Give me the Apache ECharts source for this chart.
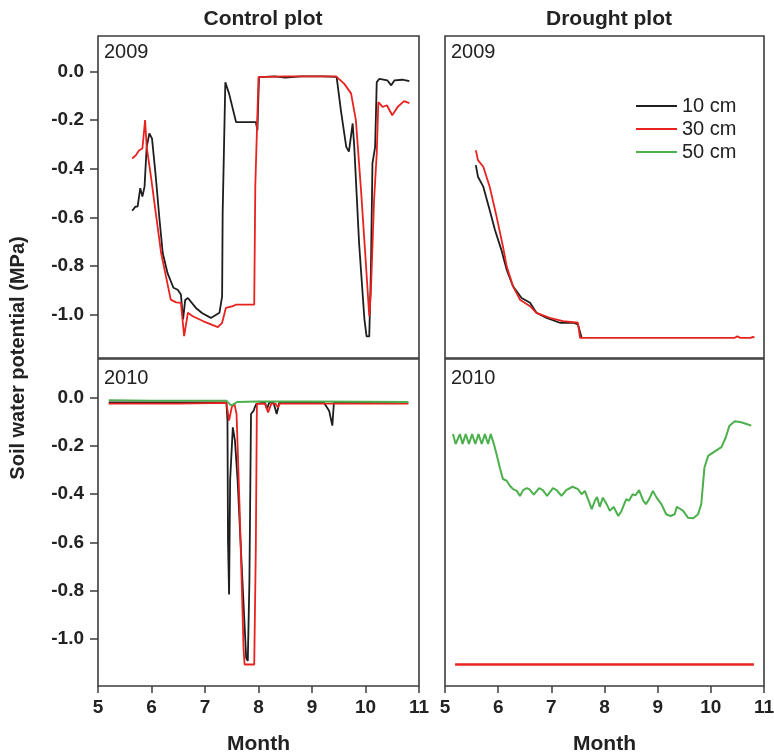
<!DOCTYPE html>
<html>
<head>
<meta charset="utf-8">
<script src="https://cdn.jsdelivr.net/npm/echarts@6.0.0/dist/echarts.min.js"></script>
<style>
  html, body { margin: 0; padding: 0; background: #fff; }
  #chart { width: 774px; height: 756px; }
</style>
</head>
<body>
<div id="chart"></div>
<script>
// month (x) and soil water potential in MPa (y)

// control plot, 2009
const ctl09_10cm = [[5.64,-0.573],[5.70,-0.556],[5.74,-0.556],[5.79,-0.48],[5.83,-0.515],[5.87,-0.474],[5.91,-0.31],[5.96,-0.255],[6.01,-0.276],[6.08,-0.433],[6.15,-0.61],[6.21,-0.747],[6.30,-0.83],[6.41,-0.89],[6.49,-0.898],[6.55,-0.918],[6.59,-1.02],[6.63,-0.94],[6.68,-0.932],[6.83,-0.973],[6.95,-0.995],[7.11,-1.014],[7.27,-0.993],[7.32,-0.925],[7.33,-0.583],[7.38,-0.044],[7.45,-0.091],[7.58,-0.208],[7.70,-0.208],[7.95,-0.208],[7.98,-0.242],[8.00,-0.09],[8.01,-0.023],[8.3,-0.02],[8.5,-0.025],[8.8,-0.02],[9.2,-0.02],[9.46,-0.022],[9.54,-0.16],[9.64,-0.31],[9.69,-0.33],[9.76,-0.214],[9.79,-0.31],[9.88,-0.706],[9.98,-1.02],[10.02,-1.09],[10.07,-1.09],[10.10,-0.83],[10.13,-0.378],[10.18,-0.31],[10.21,-0.044],[10.26,-0.03],[10.41,-0.037],[10.48,-0.057],[10.54,-0.037],[10.69,-0.034],[10.82,-0.04]]
const ctl09_30cm = [[5.64,-0.358],[5.71,-0.344],[5.77,-0.324],[5.83,-0.317],[5.88,-0.20],[5.91,-0.31],[5.99,-0.433],[6.08,-0.583],[6.18,-0.747],[6.27,-0.843],[6.36,-0.939],[6.46,-0.95],[6.55,-0.952],[6.61,-1.089],[6.68,-0.993],[6.77,-1.007],[6.96,-1.027],[7.24,-1.052],[7.32,-1.034],[7.39,-0.973],[7.52,-0.966],[7.58,-0.959],[7.92,-0.959],[7.94,-0.474],[8.00,-0.023],[8.5,-0.02],[9.0,-0.02],[9.45,-0.02],[9.60,-0.05],[9.73,-0.09],[9.82,-0.20],[9.92,-0.50],[10.01,-0.80],[10.07,-1.007],[10.10,-0.91],[10.16,-0.53],[10.21,-0.337],[10.24,-0.126],[10.32,-0.146],[10.40,-0.139],[10.50,-0.18],[10.60,-0.146],[10.72,-0.122],[10.82,-0.13]]

// drought plot, 2009
const dr09_10cm = [[5.58,-0.385],[5.62,-0.433],[5.72,-0.474],[5.84,-0.57],[5.94,-0.652],[6.06,-0.734],[6.16,-0.816],[6.28,-0.884],[6.44,-0.932],[6.60,-0.952],[6.72,-0.993],[6.91,-1.014],[7.16,-1.034],[7.41,-1.034],[7.50,-1.041],[7.57,-1.096]]
const dr09_30cm = [[5.58,-0.324],[5.62,-0.365],[5.72,-0.392],[5.84,-0.474],[5.97,-0.597],[6.09,-0.72],[6.16,-0.802],[6.28,-0.884],[6.41,-0.939],[6.60,-0.966],[6.72,-0.993],[6.97,-1.014],[7.22,-1.027],[7.50,-1.034],[7.54,-1.096],[8.5,-1.096],[9.5,-1.096],[10.45,-1.096],[10.5,-1.09],[10.55,-1.096],[10.75,-1.096],[10.79,-1.092],[10.82,-1.096]]

// control plot, 2010
const ctl10_10cm = [[5.2,-0.02],[6.0,-0.02],[7.0,-0.02],[7.40,-0.02],[7.42,-0.095],[7.43,-0.59],[7.45,-0.815],[7.47,-0.34],[7.52,-0.123],[7.56,-0.178],[7.61,-0.344],[7.70,-0.76],[7.77,-1.078],[7.80,-1.09],[7.83,-0.76],[7.86,-0.068],[7.91,-0.054],[7.93,-0.04],[7.96,-0.026],[8.12,-0.02],[8.16,-0.047],[8.20,-0.02],[8.28,-0.02],[8.34,-0.068],[8.39,-0.02],[9.22,-0.02],[9.32,-0.054],[9.38,-0.116],[9.41,-0.02],[10.0,-0.02],[10.8,-0.022]]
const ctl10_30cm = [[5.2,-0.025],[6.5,-0.025],[7.40,-0.022],[7.43,-0.02],[7.45,-0.095],[7.50,-0.04],[7.55,-0.025],[7.59,-0.068],[7.65,-0.48],[7.72,-1.036],[7.74,-1.105],[7.92,-1.105],[7.95,-0.62],[7.97,-0.026],[8.12,-0.025],[8.18,-0.061],[8.24,-0.025],[8.32,-0.025],[8.36,-0.04],[8.40,-0.025],[10.8,-0.025]]
const ctl10_50cm = [[5.2,-0.01],[6.0,-0.012],[7.0,-0.012],[7.40,-0.012],[7.49,-0.033],[7.6,-0.018],[8.0,-0.016],[9.0,-0.016],[10.0,-0.017],[10.8,-0.018]]

// drought plot, 2010
const dr10_30cm = [[5.19,-1.105],[7.0,-1.105],[9.0,-1.105],[10.81,-1.105]]
const dr10_50cm = [[5.15,-0.151],[5.20,-0.192],[5.28,-0.151],[5.33,-0.192],[5.39,-0.151],[5.45,-0.192],[5.51,-0.151],[5.57,-0.192],[5.63,-0.151],[5.69,-0.192],[5.75,-0.151],[5.81,-0.192],[5.86,-0.151],[5.91,-0.185],[5.97,-0.234],[6.03,-0.289],[6.09,-0.337],[6.16,-0.344],[6.22,-0.365],[6.28,-0.379],[6.35,-0.386],[6.41,-0.407],[6.47,-0.383],[6.54,-0.375],[6.59,-0.38],[6.67,-0.402],[6.77,-0.375],[6.84,-0.383],[6.92,-0.407],[7.03,-0.375],[7.10,-0.383],[7.19,-0.407],[7.28,-0.383],[7.40,-0.369],[7.50,-0.379],[7.57,-0.40],[7.63,-0.386],[7.69,-0.42],[7.76,-0.462],[7.82,-0.427],[7.86,-0.411],[7.91,-0.452],[7.97,-0.414],[8.04,-0.441],[8.10,-0.469],[8.17,-0.452],[8.26,-0.49],[8.32,-0.469],[8.37,-0.441],[8.41,-0.42],[8.46,-0.427],[8.53,-0.40],[8.58,-0.405],[8.65,-0.383],[8.73,-0.427],[8.78,-0.441],[8.84,-0.42],[8.91,-0.386],[8.98,-0.414],[9.07,-0.441],[9.16,-0.483],[9.24,-0.49],[9.32,-0.483],[9.36,-0.452],[9.42,-0.46],[9.48,-0.469],[9.57,-0.497],[9.67,-0.499],[9.72,-0.49],[9.76,-0.483],[9.82,-0.441],[9.88,-0.289],[9.95,-0.241],[10.04,-0.228],[10.20,-0.205],[10.28,-0.165],[10.35,-0.116],[10.45,-0.098],[10.57,-0.102],[10.67,-0.109],[10.76,-0.116]]

const yTicks = [0, -0.2, -0.4, -0.6, -0.8, -1.0]
const depthNames = ['10 cm', '30 cm', '50 cm']
const depthColors = ['#1e1e1e', '#e8231f', '#4cb04c']

const chart = echarts.init(document.getElementById('chart'))

const font = 'Liberation Sans'
const boldText = size => ({ fontFamily: font, fontWeight: 'bold', fontSize: size, color: '#222' })

// four panels: control / drought columns, 2009 / 2010 rows
const grids = [
  { left: 98, top: 36, width: 321, height: 322 },
  { left: 445, top: 36, width: 319, height: 322 },
  { left: 98, top: 359, width: 321, height: 327 },
  { left: 445, top: 359, width: 319, height: 327 }
].map(g => ({
  ...g,
  show: true,
  borderColor: '#3c3c3c',
  borderWidth: 1.6,
  backgroundColor: 'transparent',
  outerBoundsMode: 'none'
}))

const yRange = [[-1.179, 0.146], [-1.179, 0.146], [-1.194, 0.16], [-1.194, 0.16]]

const xAxes = grids.map((g, i) => ({
  type: 'value',
  gridIndex: i,
  min: 5,
  max: 11,
  interval: 1,
  show: i >= 2,
  axisLine: { show: false, onZero: false },
  axisTick: { show: true, length: 7, lineStyle: { color: '#3c3c3c', width: 1.5 } },
  axisLabel: { ...boldText(19), margin: 12 },
  splitLine: { show: false },
  name: 'Month',
  nameLocation: 'middle',
  nameGap: 48,
  nameTextStyle: boldText(21)
}))

const yAxes = grids.map((g, i) => ({
  type: 'value',
  gridIndex: i,
  min: yRange[i][0],
  max: yRange[i][1],
  show: i % 2 === 0,
  axisLine: { show: false, onZero: false },
  axisTick: { show: true, length: 8, customValues: yTicks, lineStyle: { color: '#3c3c3c', width: 1.5 } },
  axisLabel: {
    customValues: yTicks,
    formatter: v => v.toFixed(1),
    ...boldText(19),
    margin: 14
  },
  splitLine: { show: false }
}))

const line = (name, data, gi, width) => {
  const color = depthColors[depthNames.indexOf(name)]
  return {
    name,
    type: 'line',
    xAxisIndex: gi,
    yAxisIndex: gi,
    data,
    symbol: 'none',
    showSymbol: false,
    lineStyle: { color, width: width || 1.8 },
    itemStyle: { color },
    z: 2 + depthNames.indexOf(name)
  }
}

const series = [
  line('10 cm', ctl09_10cm, 0),
  line('30 cm', ctl09_30cm, 0),
  line('10 cm', dr09_10cm, 1),
  line('30 cm', dr09_30cm, 1),
  line('50 cm', [], 1),
  line('10 cm', ctl10_10cm, 2),
  line('30 cm', ctl10_30cm, 2),
  line('50 cm', ctl10_50cm, 2),
  line('30 cm', dr10_30cm, 3, 2.6),
  line('50 cm', dr10_50cm, 3, 2)
]

const plain = size => ({ fontSize: size, fontFamily: font, fill: '#222' })

chart.setOption({
  animation: false,
  backgroundColor: '#fff',
  grid: grids,
  xAxis: xAxes,
  yAxis: yAxes,
  legend: {
    data: depthNames,
    orient: 'vertical',
    left: 631,
    top: 91,
    icon: 'rect',
    itemWidth: 41,
    itemHeight: 2,
    itemGap: 3,
    textStyle: { fontFamily: font, fontSize: 20, color: '#222' }
  },
  title: [
    { text: 'Control plot', left: 258, top: 4, textAlign: 'center', textStyle: boldText(21) },
    { text: 'Drought plot', left: 604, top: 4, textAlign: 'center', textStyle: boldText(21) }
  ],
  graphic: [
    { type: 'text', x: 104, y: 52, style: { ...plain(20), text: '2009', verticalAlign: 'middle' } },
    { type: 'text', x: 451, y: 52, style: { ...plain(20), text: '2009', verticalAlign: 'middle' } },
    { type: 'text', x: 104, y: 378, style: { ...plain(20), text: '2010', verticalAlign: 'middle' } },
    { type: 'text', x: 451, y: 378, style: { ...plain(20), text: '2010', verticalAlign: 'middle' } },
    { type: 'text', x: 18, y: 358, rotation: Math.PI / 2,
      style: { fontSize: 20, fontWeight: 'bold', fontFamily: font, fill: '#222',
        text: 'Soil water potential (MPa)', align: 'center', verticalAlign: 'middle' } }
  ],
  series
})
</script>
</body>
</html>
